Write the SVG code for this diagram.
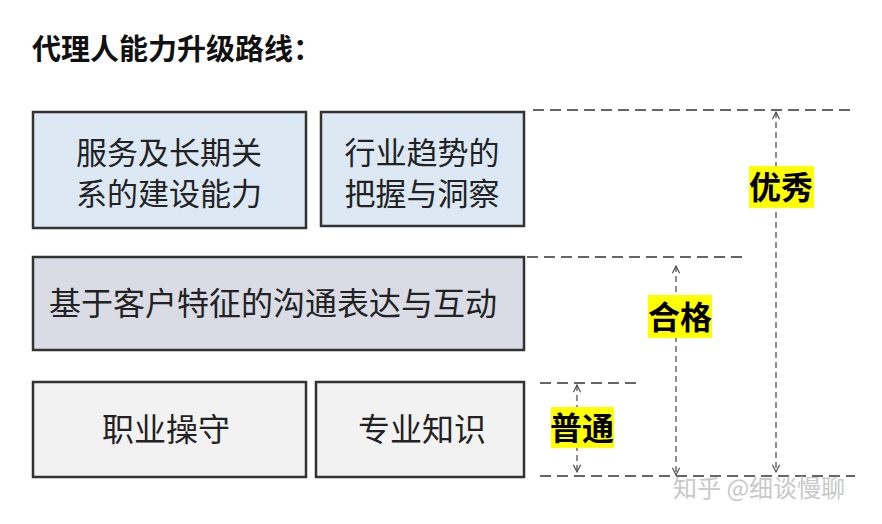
<svg xmlns="http://www.w3.org/2000/svg" width="882" height="524" viewBox="0 0 882 524">
<style>
text{font-family:"Noto Sans CJK SC","Noto Sans",sans-serif;}
.box{stroke:#333;stroke-width:2.5;}
.t{font-size:32px;fill:#222;text-anchor:middle;}
.t2{font-size:31px;fill:#222;text-anchor:middle;}
.d{stroke:#333;stroke-width:1.6;stroke-dasharray:11 6;fill:none;}
.a{stroke:#444;stroke-width:1.2;stroke-dasharray:6 4;fill:none;marker-start:url(#m);marker-end:url(#m);}
.hl{fill:#ffff00;}
.lb{font-size:32px;font-weight:bold;fill:#000;text-anchor:middle;}
</style>
<defs><marker id="m" viewBox="0 0 10 10" refX="9" refY="5" markerWidth="9" markerHeight="9" orient="auto-start-reverse" markerUnits="userSpaceOnUse"><path d="M1,1 L9,5 L1,9" fill="none" stroke="#444" stroke-width="1.2"/></marker></defs>
<rect width="882" height="524" fill="#fff"/>
<text x="32" y="60" font-size="29" font-weight="bold" fill="#111">代理人能力升级路线：</text>
<g id="n1"><rect class="box" x="33" y="112" width="273" height="116" fill="#dde8f5"/><text class="t2" x="169" y="164">服务及长期关</text><text class="t2" x="169" y="205">系的建设能力</text></g>
<g id="n2"><rect class="box" x="321" y="112" width="203" height="114" fill="#dde8f5"/><text class="t2" x="422" y="164">行业趋势的</text><text class="t2" x="422" y="205">把握与洞察</text></g>
<g id="n3"><rect class="box" x="33" y="257" width="491" height="93" fill="#d9dbe5"/><text class="t" x="273" y="315">基于客户特征的沟通表达与互动</text></g>
<g id="n4"><rect class="box" x="33" y="382" width="273" height="95" fill="#f2f2f2"/><text class="t" x="166" y="441">职业操守</text></g>
<g id="n5"><rect class="box" x="316" y="382" width="208" height="95" fill="#f2f2f2"/><text class="t" x="422" y="441">专业知识</text></g>
<g id="connectors">
<line class="d" x1="533" y1="110" x2="850" y2="110"/>
<line class="d" x1="527" y1="257" x2="742" y2="257"/>
<line class="d" x1="540" y1="383" x2="638" y2="383"/>
<line class="d" x1="540" y1="476" x2="855" y2="476"/>
<line class="a" x1="776" y1="112" x2="776" y2="472"/>
<line class="a" x1="676" y1="266" x2="676" y2="475"/>
<line class="a" x1="577" y1="385" x2="577" y2="472"/>
</g>
<g id="l1"><rect class="hl" x="749" y="166" width="65" height="42"/><text class="lb" x="781" y="199">优秀</text></g>
<g id="l2"><rect class="hl" x="648" y="295" width="64" height="43"/><text class="lb" x="680" y="329">合格</text></g>
<g id="l3"><rect class="hl" x="551" y="407" width="63" height="41"/><text class="lb" x="582" y="440">普通</text></g>
<text x="673" y="497" font-size="24" fill="#c8c8c8">知乎 @细谈慢聊</text>
</svg>
